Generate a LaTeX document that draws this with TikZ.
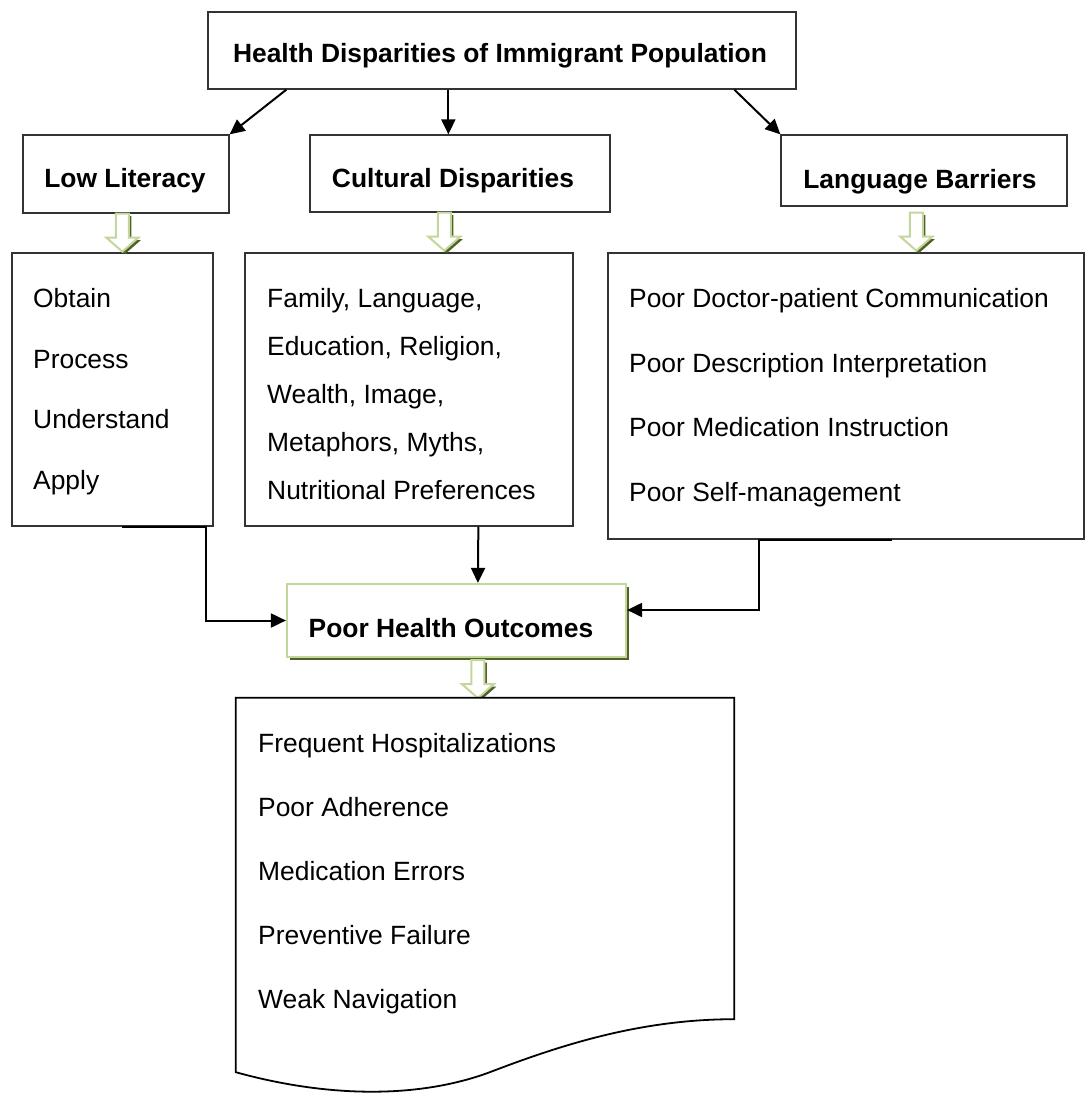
\documentclass[tikz,border=0pt]{standalone}
\usepackage{fontspec}
\setmainfont{Liberation Sans}
\usetikzlibrary{arrows.meta,calc,shadows}

\definecolor{framegreen}{HTML}{C3D69B}
\definecolor{shadowolive}{HTML}{4F6228}
\definecolor{edgegray}{HTML}{333333}

\tikzset{
  box/.style={draw=edgegray, line width=1.3pt, rectangle, inner sep=0pt, fill=white},
  headtext/.style={font=\fontsize{26.4}{31}\selectfont\bfseries, anchor=base, inner sep=0pt},
  itemtext/.style={font=\fontsize{26.4}{31}\selectfont, anchor=base west, inner sep=0pt},
  link/.style={line width=2pt, draw=black, -{Triangle[length=15pt,width=14pt]}},
  outcome/.style={draw=framegreen, line width=2.2pt, rectangle, inner sep=0pt, fill=white,
    drop shadow={shadow xshift=3pt, shadow yshift=-3pt, fill=shadowolive, opacity=1}},
  blockdown/.pic={
    \fill[shadowolive] (-4,2.5) -- (9,2.5) -- (9,26.5) -- (18.5,26.5) -- (2.5,40.5) -- (-13.5,26.5) -- (-4,26.5) -- cycle;
    \filldraw[fill=white, draw=framegreen, line width=2pt]
      (-6.5,0) -- (6.5,0) -- (6.5,24) -- (16,24) -- (0,38) -- (-16,24) -- (-6.5,24) -- cycle;
  }
}

\begin{document}
\begin{tikzpicture}[x=1pt, y=-1pt]
  \useasboundingbox[fill=white] (0,0) rectangle (1086,1095);

  % top level
  \node[box, minimum width=588, minimum height=77] (title) at (502,50.5) {};
  \node[headtext] (titleT) at (500,62.5) {Health Disparities of Immigrant Population};

  % three branches
  \node[box, minimum width=206, minimum height=78] (lowlit) at (126,174) {};
  \node[headtext] (lowlitT) at (125,187.5) {Low Literacy};
  \node[box, minimum width=300, minimum height=77] (cultural) at (460,173.5) {};
  \node[headtext] (culturalT) at (453,187.5) {Cultural Disparities};
  \node[box, minimum width=286, minimum height=71] (language) at (924,170.5) {};
  \node[headtext] (languageT) at (920,188.5) {Language Barriers};

  \draw[link] ($(title.south west)+(79,0)$) -- (lowlit.north east);
  \draw[link] ($(title.south west)+(241,0)$) -- ($(cultural.north west)+(139,0)$);
  \draw[link] ($(title.south west)+(527,0)$) -- (language.north west);

  % detail boxes
  \node[box, minimum width=201, minimum height=273] (lowlitC) at (112.5,389.5) {};
  \node[itemtext] (l1) at (33,307.5) {Obtain};
  \node[itemtext] (l2) at (33,368.2) {Process};
  \node[itemtext] (l3) at (33,428.8) {Understand};
  \node[itemtext] (l4) at (33,489.5) {Apply};

  \node[box, minimum width=328, minimum height=273] (culturalC) at (409,389.5) {};
  \node[itemtext] (c1) at (267,307.5) {Family, Language,};
  \node[itemtext] (c2) at (267,355.5) {Education, Religion,};
  \node[itemtext] (c3) at (267,403.5) {Wealth, Image,};
  \node[itemtext] (c4) at (267,451.5) {Metaphors, Myths,};
  \node[itemtext] (c5) at (267,499.5) {Nutritional Preferences};

  \node[box, minimum width=476, minimum height=286] (languageC) at (846,396) {};
  \node[itemtext] (g1) at (629,307.5) {Poor Doctor-patient Communication};
  \node[itemtext] (g2) at (629,372.2) {Poor Description Interpretation};
  \node[itemtext] (g3) at (629,436.8) {Poor Medication Instruction};
  \node[itemtext] (g4) at (629,501.5) {Poor Self-management};

  % block arrows from headings to detail boxes
  \pic at ($(lowlit.south west)+(100,0)$) {blockdown};
  \pic at ($(cultural.south west)+(135,0)$) {blockdown};
  \pic at ($(language.south west)+(136,6)$) {blockdown};

  % outcome box
  \node[outcome, minimum width=339, minimum height=73] (pho) at (456.5,620.5) {};
  \node[headtext] (phoT) at (451,637.5) {Poor Health Outcomes};

  \draw[link] ($(lowlitC.south west)+(111,0)$) -- ($(lowlitC.south east)+(-8,0)$) |- (pho.west);
  \draw[link] ($(culturalC.south west)+(234,0)$) -- ($(pho.north west)+(192,0)$);
  \draw[link] ($(languageC.south west)+(285,0)$) -- ($(languageC.south west)+(152,0)$) |- ($(pho.east)+(0,-10.5)$);

  % consequences, document shape
  \node[minimum width=498, minimum height=321, inner sep=0pt] (doc) at (485,858.5) {};
  \pic at ($(pho.south west)+(192,2)$) {blockdown};
  \draw[line width=1.8pt, fill=white] (doc.north west) -- (doc.north east) -- (doc.south east)
    .. controls ($(doc.south east)+(-94,0)$) and ($(doc.south east)+(-174,26)$) .. ($(doc.south west)+(254,53)$)
    .. controls ($(doc.south west)+(184,79)$) and ($(doc.south west)+(94,79)$) .. ($(doc.south west)+(0,53)$)
    -- cycle;
  \node[itemtext] (d1) at (258,752.5) {Frequent Hospitalizations};
  \node[itemtext] (d2) at (258,816.5) {Poor Adherence};
  \node[itemtext] (d3) at (258,880.5) {Medication Errors};
  \node[itemtext] (d4) at (258,944.5) {Preventive Failure};
  \node[itemtext] (d5) at (258,1008.5) {Weak Navigation};
\end{tikzpicture}
\end{document}
